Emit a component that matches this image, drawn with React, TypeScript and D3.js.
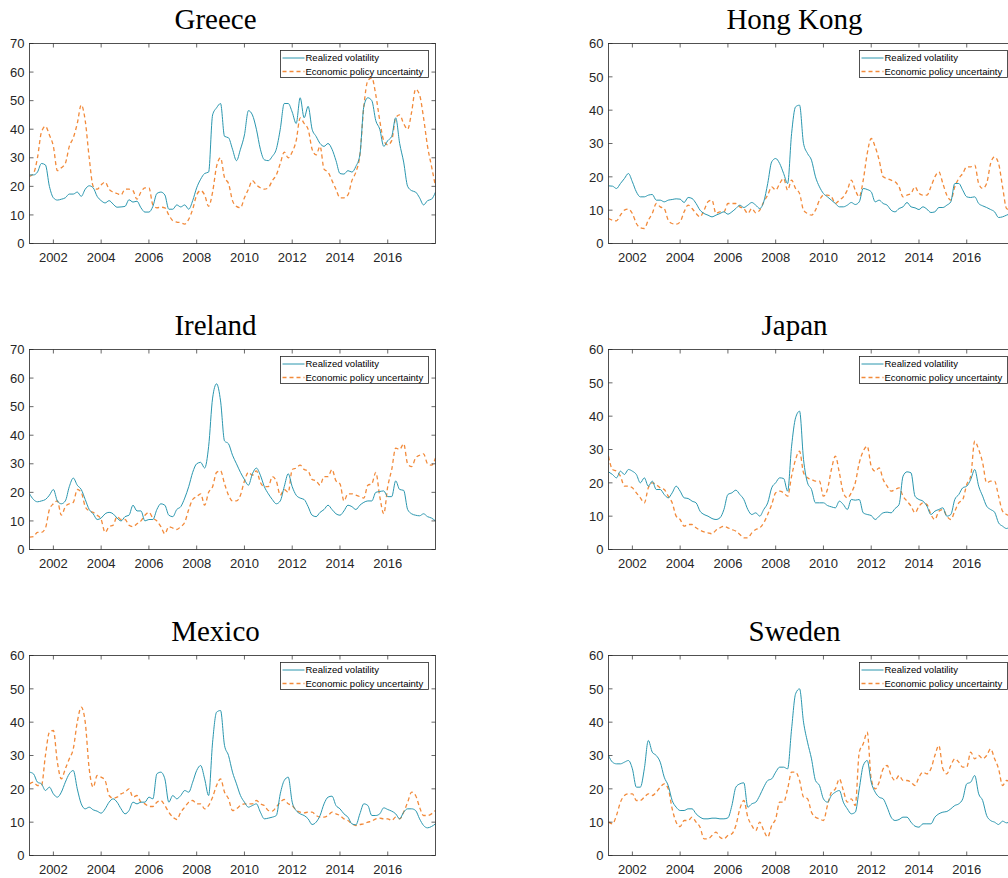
import React from 'react'
import * as d3 from 'd3'

// bi-monthly sampling, Jan 2001 .. Jan 2018
const times = d3.range(103).map((i) => 2001 + i / 6)
const yearTicks = [2002, 2004, 2006, 2008, 2010, 2012, 2014, 2016]
const legendLabels = ['Realized volatility', 'Economic policy uncertainty']

const greeceRV = [
  24, 24, 25, 28, 27.5, 20,
  16, 15.2, 15.5, 16, 17.3, 17.3,
  18, 16.5, 19, 20.2, 19.5, 16.5,
  15, 14.2, 15, 13.8, 12.7, 12.8,
  13, 15.3, 14.5, 14.8, 12.5, 11,
  11, 13, 17.5, 18, 17, 12,
  12, 13.5, 12.8, 13.5, 12, 15,
  19.5, 22.5, 24.5, 25, 45, 47.5,
  49, 37.5, 37, 33, 29, 33,
  38, 46.5, 45, 40, 33, 29.3,
  29, 30.5, 33, 40, 49, 49,
  46, 42, 51, 44, 48, 40,
  37.5, 35, 34, 35, 33, 29,
  24.5, 24.3, 25.5, 25, 27, 31,
  48, 51, 50, 43, 40, 34,
  36, 37.5, 44, 35, 28.5, 20,
  18.5, 18, 16, 13.5, 15, 15.5,
  18,
]
const greeceEPU = [
  23.5, 24.5, 30, 39, 41, 38,
  34, 25.5, 26.5, 28, 34, 37,
  42, 48.5, 43, 30, 20, 19,
  20.5, 21.5, 19, 18, 17.5, 17,
  19, 19, 18.5, 15.5, 18, 19.5,
  19.5, 13.5, 12.5, 12.7, 12.5, 10,
  8, 7.5, 7.3, 6.8, 8.5, 12,
  17, 18.5, 17, 13, 18, 27,
  30, 23, 21, 15, 13, 12.5,
  16, 19, 22, 20.5, 19.5, 19,
  19.5, 22, 24, 28, 32, 30,
  32, 36, 44, 42, 40, 33,
  31, 34, 26, 25, 22, 19,
  16, 16, 17, 22, 25, 31,
  48, 57, 58, 52, 43, 36,
  34.5, 36, 44, 45, 42, 40,
  46, 54, 52, 44, 34, 27,
  20,
]

const hongKongRV = [
  17.3, 17.2, 16.5, 18, 19.5, 21,
  18.5, 15.5, 14, 14, 14.5, 14.7,
  13, 13, 12.5, 13, 13.2, 13.4,
  13.3, 12.3, 13.8, 13.5, 12, 10,
  9, 8.5, 8, 8.5, 9, 9.5,
  8.8, 9.5, 10.5, 11.5, 10.8, 11.5,
  12.3, 11.5, 10.5, 12.5, 18, 24.5,
  25.5, 24, 21, 18, 33, 41,
  41.5, 30, 27, 25, 20, 17,
  15, 14, 13, 12, 11, 11,
  11.5, 12.3, 11.7, 12.5, 16.5, 16.2,
  15.5, 12.5, 13, 12, 11.5, 10,
  9.5, 10.5, 11, 12.3, 11, 10.7,
  10.2, 11, 10.3, 9.3, 9.5, 10.8,
  10.8, 11.5, 12.5, 18, 18, 16,
  14, 13.8, 14, 12, 11.3, 10.8,
  10.2, 9.5, 7.8, 8, 8.5, 9,
  9.5,
]
const hongKongEPU = [
  7.5, 7, 6.8, 8.5, 10, 10.3,
  9, 6, 4.7, 4.5, 7, 9,
  12, 11, 10.5, 7, 6, 5.8,
  6.5, 9.5, 11.5, 10.5, 9, 8,
  10, 12.5, 13, 9, 9.5, 9.5,
  12, 12, 12, 11, 10.5, 9,
  10.5, 9.2, 10, 12.5, 14.5, 17,
  16, 18, 19.5, 16, 19, 16.5,
  15, 10, 9, 8.5, 10, 13,
  14.5, 14.5, 14, 12, 13, 14,
  16, 19, 16, 14, 19, 27,
  31.5, 29, 25, 20, 19.5, 19,
  18.5, 17, 14, 14.5, 15, 17,
  15, 14.5, 14.5, 17, 20, 21.5,
  18, 14.5, 13, 17, 19.5, 21,
  23, 23, 23.5, 18, 16.5, 18,
  24, 26, 24, 17, 10.5, 10,
  10,
]

const irelandRV = [
  19.5, 17.5, 16.7, 17, 17.5, 19,
  21, 17, 16, 17, 22, 25,
  22.5, 21, 17.5, 14, 12.5, 10.5,
  11, 12.5, 13, 12.5, 11, 10,
  11.5, 12, 15.5, 13.5, 13.5, 10,
  10.5, 10.5, 14, 16, 15.5, 12,
  11.5, 14, 15, 18, 22, 27,
  30, 30.5, 28.5, 36, 53, 58,
  52, 38, 37, 33, 30, 27,
  24.5, 22.5, 26.5, 28.5, 26, 22,
  19.5, 17.5, 16, 17, 22, 26.5,
  22, 19, 18, 17.5, 15, 12,
  11.5, 13, 14, 15.5, 14, 12.5,
  12, 13.5, 15.5, 15, 14, 15.5,
  16.5, 17, 17, 20, 20.3, 20.5,
  18.5, 18.5, 24, 21, 20.7, 14,
  12.5, 12, 11.8, 12.5, 11.5, 11,
  10,
]
const irelandEPU = [
  4.3, 4.5, 6, 6, 7.5, 14,
  16, 17, 12, 15, 16, 16.5,
  21, 20, 15, 13.5, 13, 12,
  10.5, 6, 8, 8.5, 11.5, 10.5,
  10.5, 8.5, 8, 9, 10, 12,
  13, 11, 10, 8, 5.5, 8,
  7.5, 7, 8, 9.5, 14, 17.5,
  18.5, 19.5, 15.5, 20, 22, 27,
  27.5, 23, 19, 17, 17, 19,
  24, 27, 26, 27.5, 23.5, 22,
  22, 25.5, 24, 19, 21, 20,
  28, 28.5, 29.5, 28, 27.5, 24.5,
  24, 22.5, 25.5, 25.5, 28, 24,
  23, 17, 19.5, 19.5, 19, 18.5,
  18, 22.5, 23, 27, 18.5, 12.5,
  22, 28, 35.5, 35, 37, 30,
  29, 32, 33, 33.5, 30, 29.5,
  32,
]

const japanRV = [
  23.3, 22.5, 21.5, 23.5, 22.5, 24,
  23.5, 22.5, 20, 21.5, 19, 20.5,
  18, 18, 16.5, 15.5, 17, 19,
  17.5, 15.5, 15.3, 14.5, 14, 11.5,
  10.5, 10, 9.3, 9, 9.5, 12,
  16.5, 17, 17.8, 16.5, 15, 12,
  10.5, 11, 10, 12, 14, 18.5,
  20, 21.5, 21.3, 17.5, 31, 39.5,
  41.5, 27, 20, 18, 14, 14,
  14, 13.2, 12.8, 12.5, 14.5, 13.5,
  12, 15, 14.8, 15, 11, 10.5,
  10.2, 9, 10, 11, 11.2, 11,
  12.3, 13.5, 22, 23.3, 23, 16,
  15, 14.5, 13, 10.5, 11.5, 12,
  12.5, 10, 10.5, 15, 16.5, 18.5,
  19, 21, 24, 19, 16, 13,
  12, 11.2, 8, 7, 6.3, 7,
  7.5,
]
const japanEPU = [
  28, 24, 23.5, 22, 19, 19,
  18.5, 17, 15.5, 14, 18.5, 20,
  19.5, 18.5, 18, 16, 14, 10,
  9, 7, 7.5, 7.5, 6.5, 5.8,
  5.3, 5, 4.7, 5.8, 6.5, 7,
  6.5, 6, 5.5, 4.5, 3.5, 3.5,
  5, 6, 6.5, 8, 10.5, 13.5,
  17, 17.5, 17, 16, 22, 27,
  29.5, 23, 21.5, 21, 20.5, 20.5,
  16, 18, 24, 28, 23, 17,
  15.5, 17, 20, 26, 29.5, 31,
  25, 23.5, 24.5, 21, 19, 17.5,
  18, 18.5, 16, 14.5, 13, 11,
  13, 14, 13.5, 10.5, 9, 11.5,
  12, 10, 9, 11.5, 14, 15,
  19.5, 22, 32.5, 30, 26, 20,
  20.5, 20.5, 16, 11.5, 10.5, 10,
  9,
]

const mexicoRV = [
  25, 24.5, 22, 21.5, 19.5, 20.5,
  18.5, 17.5, 19, 22, 24.5, 25.5,
  20, 15.5, 14, 14.5, 13.7, 13.3,
  12.7, 14, 16, 17, 16, 14,
  12.5, 13.5, 16, 15.5, 16, 16,
  17.5, 17, 24.5, 25, 23, 16,
  18, 17, 18, 19.5, 19, 22,
  25.5, 27, 23, 18, 34, 43,
  43.5, 33, 30, 25, 21.5, 18,
  16, 14.5, 15, 15.5, 13, 11,
  11.2, 11.5, 12, 18.5, 22.5, 23.5,
  16, 13.5, 12.5, 12, 11, 9.3,
  10, 12, 15.5, 17.5, 17.8, 15,
  14, 12.5, 11.5, 9.5, 9.2, 12.5,
  15.5, 15, 12, 12, 12.5, 14.3,
  13.8, 13.3, 12.5, 11, 13, 14,
  14, 13.5, 11, 9, 8.3, 8.7,
  9.5,
]
const mexicoEPU = [
  21.5, 22, 21, 21, 30, 37,
  37.5, 28, 23, 26, 29, 32,
  40, 44.5, 40, 26, 20.5, 24,
  23.5, 22.5, 18, 17.2, 17.5, 18.5,
  19, 20, 17.5, 18, 16, 15.5,
  14.7, 14.7, 16, 16.5, 15, 13,
  11.5, 10.8, 13, 14.5, 16, 16.5,
  15.5, 15.5, 14, 15, 17.5, 21,
  23, 19, 17, 13.5, 14, 15,
  15.5, 15.5, 15.5, 16.5, 15.5, 15,
  13.5, 13.3, 14.5, 16, 16.8, 15.5,
  15, 13.5, 13, 12.8, 13, 13,
  12, 11.5, 11.5, 12, 13, 12.5,
  12, 11, 10.5, 9.5, 9, 9.3,
  9.5, 10, 10.3, 11, 11.2, 11,
  11, 10.5, 11.5, 11, 13, 16,
  19, 18, 14.5, 12, 12, 12.5,
  13.5,
]

const swedenRV = [
  30, 28, 27.5, 27.5, 28, 28.5,
  26, 20.5, 20.5, 26, 34.5, 31,
  30, 28, 23.5, 21, 16.5, 14.5,
  13.5, 13.5, 14, 14, 12.5, 11.5,
  11, 11, 11.2, 11.2, 11, 11,
  11.3, 15, 20.5, 21.5, 21.8, 14.5,
  15.5, 16, 18, 20.5, 22.5, 23,
  25, 26.5, 26.5, 26, 38, 48.5,
  50, 40, 34, 29, 22.5, 21,
  17, 16, 18, 19, 19.5, 16,
  14, 12.5, 13, 20, 27, 28.5,
  22, 19, 17.5, 17, 14.5, 11.5,
  10.5, 10.8, 11.5, 11.5, 10, 8.8,
  8.5, 9.5, 9.5, 9.5, 11.5, 12.5,
  13, 13.2, 14, 15, 15.5, 17,
  21.5, 22, 24, 18.5, 16.5, 12,
  10.5, 10, 9.3, 10.3, 9.8, 10,
  10,
]
const swedenEPU = [
  10, 9.5, 12, 16, 18, 18.5,
  18.5, 16.5, 16.5, 17.5, 18.5, 18,
  19, 20.5, 21.5, 20, 14, 10,
  8.7, 10.5, 10.5, 11.5, 10, 8.5,
  5, 5, 6, 7, 5.5, 5,
  6, 6.5, 9, 14, 16.5, 11.5,
  9, 7.5, 10, 7.5, 5.5, 9,
  11, 16, 16, 20, 25, 25,
  22.5, 17.5, 17, 13, 11.5, 11,
  10.5, 15, 19, 20, 23, 19.5,
  16, 17, 15, 31, 33.5, 37,
  23, 20, 22, 26, 27, 24,
  22.5, 24, 22.5, 22.5, 22, 21,
  23.5, 25, 24.5, 26, 30, 33,
  26, 24.5, 27, 29, 28, 26.5,
  26.5, 31, 29, 30, 29, 30,
  32, 29, 26, 21, 22.5, 22,
  21,
]

const panels = [
  { title: 'Greece', rv: greeceRV, epu: greeceEPU, yMax: 70, col: 0, row: 0 },
  { title: 'Hong Kong', rv: hongKongRV, epu: hongKongEPU, yMax: 60, col: 1, row: 0 },
  { title: 'Ireland', rv: irelandRV, epu: irelandEPU, yMax: 70, col: 0, row: 1 },
  { title: 'Japan', rv: japanRV, epu: japanEPU, yMax: 60, col: 1, row: 1 },
  { title: 'Mexico', rv: mexicoRV, epu: mexicoEPU, yMax: 60, col: 0, row: 2 },
  { title: 'Sweden', rv: swedenRV, epu: swedenEPU, yMax: 60, col: 1, row: 2 },
]

const colX = [29.5, 608.5]
const rowY = [43.5, 349.5, 655.5]
const W = 406
const H = 200
const axisColor = '#262626'
const rvColor = '#2a96ae'
const epuColor = '#f28a3a'
const tickFont = '"Liberation Sans", Arial, sans-serif'

const Panel = ({ p }) => {
  const left = colX[p.col]
  const top = rowY[p.row]

  const x = d3.scaleLinear().domain([2001, 2018]).range([0, W])
  const y = d3.scaleLinear().domain([0, p.yMax]).range([H, 0])
  const yTicks = d3.range(0, p.yMax + 1, 10)

  const line = d3
    .line<number>()
    .x((d, i) => x(times[i]))
    .y((d) => y(d))
    .curve(d3.curveMonotoneX)

  // legend box
  const lw = 148
  const lx = W - 7 - lw
  const ly = 7

  return (
    <g transform={`translate(${left}, ${top})`}>
      <text
        x={186}
        y={-15}
        textAnchor="middle"
        fontFamily='"Liberation Serif", serif'
        fontSize={29}
        fill="#000"
      >
        {p.title}
      </text>

      <rect x={0} y={0} width={W} height={H} fill="white" />

      <g clipPath={`url(#clip-${p.col}-${p.row})`}>
        <path d={line(p.epu)} fill="none" stroke={epuColor} strokeWidth={1.3} strokeDasharray="4,3" />
        <path d={line(p.rv)} fill="none" stroke={rvColor} strokeWidth={1} />
      </g>

      {/* x ticks */}
      {yearTicks.map((t) => (
        <g key={t}>
          <line x1={x(t)} x2={x(t)} y1={H} y2={H - 4} stroke={axisColor} strokeWidth={0.7} />
          <line x1={x(t)} x2={x(t)} y1={0} y2={4} stroke={axisColor} strokeWidth={0.7} />
          <text x={x(t)} y={H + 18} textAnchor="middle" fontFamily={tickFont} fontSize={13} fill={axisColor}>
            {t}
          </text>
        </g>
      ))}

      {/* y ticks */}
      {yTicks.map((t) => (
        <g key={t}>
          <line x1={0} x2={4} y1={y(t)} y2={y(t)} stroke={axisColor} strokeWidth={0.7} />
          <line x1={W} x2={W - 4} y1={y(t)} y2={y(t)} stroke={axisColor} strokeWidth={0.7} />
          <text x={-5} y={y(t)} dy="0.36em" textAnchor="end" fontFamily={tickFont} fontSize={13} fill={axisColor}>
            {t}
          </text>
        </g>
      ))}

      <rect x={0} y={0} width={W} height={H} fill="none" stroke={axisColor} strokeWidth={0.8} />

      {/* legend */}
      <g transform={`translate(${lx}, ${ly})`}>
        <rect x={0} y={0} width={lw} height={27} fill="white" stroke={axisColor} strokeWidth={0.8} />
        <line x1={2} x2={24} y1={7.5} y2={7.5} stroke={rvColor} strokeWidth={1} />
        <line x1={2} x2={24} y1={21} y2={21} stroke={epuColor} strokeWidth={1.3} strokeDasharray="4,3" />
        <text x={25} y={7.5} dy="0.35em" fontFamily={tickFont} fontSize={9.5} fill="#000">
          {legendLabels[0]}
        </text>
        <text x={25} y={21} dy="0.35em" fontFamily={tickFont} fontSize={9.5} fill="#000">
          {legendLabels[1]}
        </text>
      </g>
    </g>
  )
}

const App = () => {
  return (
    <svg
      width={1008}
      height={878}
      style={{ position: 'absolute', left: 0, top: 0, background: 'white' }}
    >
      <defs>
        {panels.map((p) => (
          <clipPath key={p.title} id={`clip-${p.col}-${p.row}`}>
            <rect x={0} y={0} width={W} height={H} />
          </clipPath>
        ))}
      </defs>
      {panels.map((p) => (
        <Panel key={p.title} p={p} />
      ))}
    </svg>
  )
}

export default App
